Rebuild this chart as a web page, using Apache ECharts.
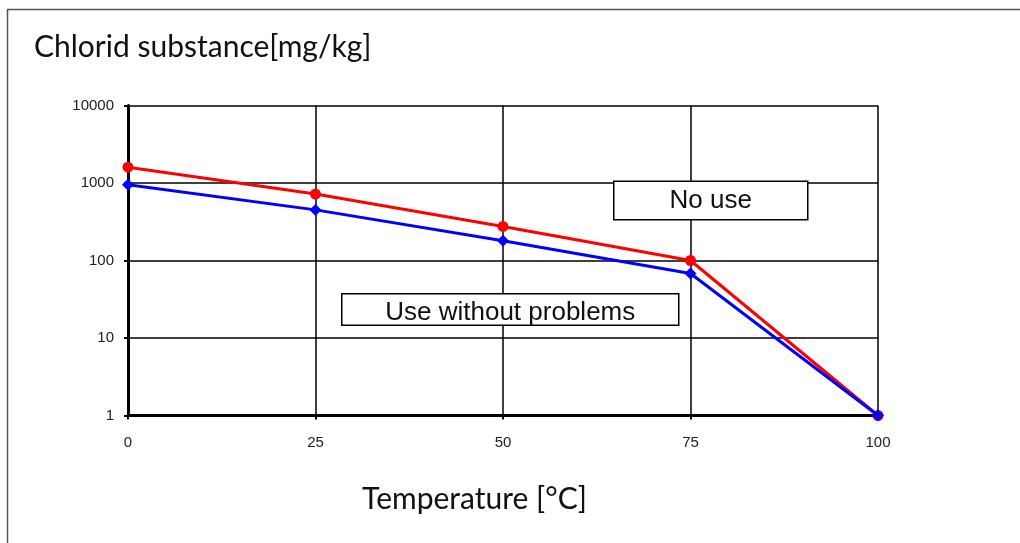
<!DOCTYPE html>
<html>
<head>
<meta charset="utf-8">
<script src="https://cdn.jsdelivr.net/npm/echarts@6/dist/echarts.min.js"></script>
<style>
  html, body { margin: 0; padding: 0; background: #fff; }
  #main { width: 1020px; height: 543px; }
</style>
</head>
<body>
<div id="main"></div>
<script>
// temperature steps [°C]
const temperatures = [0, 25, 50, 75, 100]
// chloride limits [mg/kg]
const redValues = [1600, 720, 275, 100, 1]
const blueValues = [950, 450, 180, 68, 1]
const yTicks = [1, 10, 100, 1000, 10000]

const chartDom = document.getElementById('main')
const myChart = echarts.init(chartDom)

const toPairs = (xs, ys) => xs.map((x, i) => [x, ys[i]])

// label box on top of the grid lines
function labelBox(left, top, width, height, text, textY) {
  return {
    type: 'group',
    left: left,
    top: top,
    zlevel: 2,
    z: 100,
    children: [
      {
        type: 'rect',
        zlevel: 2,
        z: 100,
        shape: { x: 0, y: 0, width: width, height: height },
        style: { fill: '#fff', stroke: '#000', lineWidth: 1.5 },
      },
      {
        type: 'text',
        zlevel: 2,
        z: 101,
        x: width / 2,
        y: textY,
        style: { text: text, align: 'center', verticalAlign: 'middle', font: '26px "Liberation Sans"', fill: '#111' },
      },
    ],
  }
}

const option = {
  animation: false,
  backgroundColor: '#fff',
  title: {
    text: 'Chlorid substance[mg/kg]',
    left: 29,
    top: 27,
    textStyle: { fontFamily: 'Lato', fontWeight: 'normal', fontSize: 30, color: '#111' },
  },
  grid: { left: 128, right: 142, top: 105.5, bottom: 127.5 },
  xAxis: {
    type: 'value',
    min: 0,
    max: 100,
    interval: 25,
    name: 'Temperature [°C]',
    nameLocation: 'middle',
    nameGap: 69,
    nameTextStyle: { fontFamily: 'Lato', fontSize: 30, color: '#111', padding: [0, 57, 0, 0] },
    axisLine: { show: true, lineStyle: { color: '#000', width: 3 } },
    axisTick: { show: true, length: 4, lineStyle: { color: '#000', width: 2 } },
    axisLabel: { margin: 20, fontFamily: 'Liberation Sans', fontSize: 15, color: '#222' },
    splitLine: { show: true, lineStyle: { color: '#000', width: 1.5 } },
  },
  yAxis: {
    type: 'log',
    logBase: 10,
    min: yTicks[0],
    max: yTicks[yTicks.length - 1],
    axisLine: { show: true, lineStyle: { color: '#000', width: 3 } },
    axisTick: { show: true, length: 4, lineStyle: { color: '#000', width: 2 } },
    axisLabel: {
      margin: 14,
      fontFamily: 'Liberation Sans',
      fontSize: 15,
      color: '#222',
      formatter: (v) => String(Math.round(v)),
    },
    splitLine: { show: true, lineStyle: { color: '#000', width: 1.5 } },
    minorTick: { show: false },
  },
  graphic: [
    {
      type: 'rect',
      shape: { x: 7.5, y: 9.5, width: 1100, height: 700 },
      style: { fill: 'none', stroke: '#555', lineWidth: 1.5 },
      z: -1,
    },
    labelBox(613, 180.5, 194, 38.5, 'No use', 20),
    labelBox(341, 293, 337, 31.5, 'Use without problems', 19),
  ],
  series: [
    {
      name: 'red',
      type: 'line',
      data: toPairs(temperatures, redValues),
      symbol: 'circle',
      symbolSize: 11,
      lineStyle: { color: '#ff0000', width: 3 },
      itemStyle: { color: '#ff0000' },
      z: 3,
    },
    {
      name: 'blue',
      type: 'line',
      data: toPairs(temperatures, blueValues),
      symbol: 'diamond',
      symbolSize: 12,
      lineStyle: { color: '#0000ff', width: 3 },
      itemStyle: { color: '#0000ff' },
      z: 4,
    },
  ],
}

option && myChart.setOption(option)
</script>
</body>
</html>
